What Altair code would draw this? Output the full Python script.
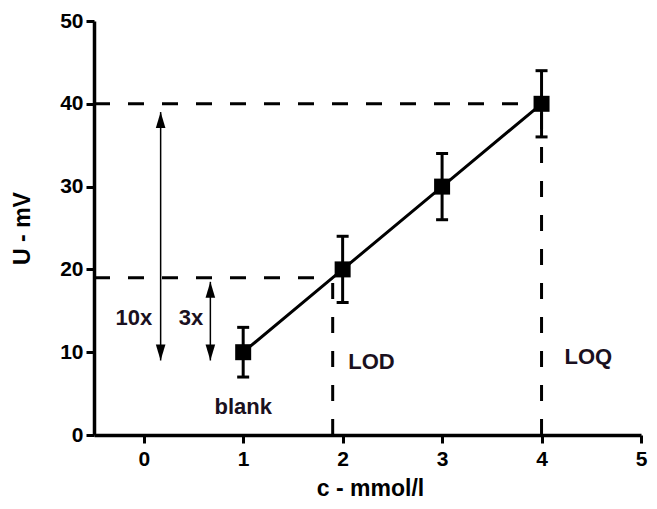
import altair as alt
import pandas as pd

# measured calibration points
conc = [1, 2, 3, 4]
signal = [10, 20, 30, 40]
err = [3, 4, 4, 4]

x_ticks = [0, 1, 2, 3, 4, 5]
y_ticks = [0, 10, 20, 30, 40, 50]

# dashed guide lines (x, x2, y, y2)
guide_x = [-0.5, 1.9, -0.5, 4]
guide_x2 = [1.9, 1.9, 4, 4]
guide_y = [19, 0, 40, 0]
guide_y2 = [19, 19, 40, 40]

# double arrows
arrow_x = [0.17, 0.67]
arrow_lo = [9, 9]
arrow_hi = [39, 18.5]

# annotations
ann_text = ["10x", "3x", "blank", "LOD", "LOQ"]
ann_x = [-0.1, 0.475, 1.0, 2.29, 4.47]
ann_y = [13.3, 13.3, 2.5, 8.0, 8.6]

FONT = "Liberation Sans"

pts = pd.DataFrame({"c": conc, "u": signal, "lo": [s - e for s, e in zip(signal, err)],
                    "hi": [s + e for s, e in zip(signal, err)]})
guides = pd.DataFrame({"x": guide_x, "x2": guide_x2, "y": guide_y, "y2": guide_y2})
arrows = pd.DataFrame({"x": arrow_x, "lo": arrow_lo, "hi": arrow_hi})
ann = pd.DataFrame({"t": ann_text, "x": ann_x, "y": ann_y})

xs = alt.Scale(domain=[-0.5, 5], nice=False, zero=False)
ys = alt.Scale(domain=[0, 50], nice=False)

x_axis = alt.Axis(values=x_ticks, title="c - mmol/l", grid=False, format="d",
                  domainWidth=3.5, domainColor="black", tickColor="black", tickWidth=3, tickSize=8,
                  labelFont=FONT, labelFontWeight="bold", labelFontSize=21, labelColor="black",
                  labelPadding=5, labelFlush=False,
                  titleFont=FONT, titleFontWeight="bold", titleFontSize=23, titleColor="black",
                  titleX=276, titleY=60, titleBaseline="alphabetic", titleAlign="center")
y_axis = alt.Axis(values=y_ticks, title="U - mV", grid=False, format="d",
                  domainWidth=3.5, domainColor="black", tickColor="black", tickWidth=3, tickSize=8,
                  labelFont=FONT, labelFontWeight="bold", labelFontSize=21, labelColor="black",
                  labelPadding=3, labelFlush=False,
                  titleFont=FONT, titleFontWeight="bold", titleFontSize=23, titleColor="black",
                  titleX=-72, titleY=207, titleAngle=270, titleBaseline="middle", titleAlign="center")


def X(field):
    return alt.X(field, scale=xs, axis=x_axis, title="c - mmol/l")


def Y(field):
    return alt.Y(field, scale=ys, axis=y_axis, title="U - mV")


line = alt.Chart(pts).mark_line(strokeWidth=3, color="black").encode(
    x=X("c:Q"), y=Y("u:Q"))

guide_layer = alt.Chart(guides).mark_rule(strokeDash=[16, 18], strokeWidth=3, color="black").encode(
    x=X("x:Q"), x2="x2:Q", y=Y("y:Q"), y2="y2:Q")

shaft = alt.Chart(arrows).mark_rule(strokeWidth=1.5, color="black").encode(
    x=X("x:Q"), y=Y("lo:Q"), y2="hi:Q")

head_up = alt.Chart(arrows).mark_point(shape="M0,0L0.6,2L-0.6,2Z", filled=True, size=256,
                                       color="black", opacity=1).encode(
    x=X("x:Q"), y=Y("hi:Q"))
head_down = alt.Chart(arrows).mark_point(shape="M0,0L0.6,-2L-0.6,-2Z", filled=True, size=256,
                                         color="black", opacity=1).encode(
    x=X("x:Q"), y=Y("lo:Q"))

ebar = alt.Chart(pts).mark_rule(strokeWidth=3, color="black").encode(
    x=X("c:Q"), y=Y("lo:Q"), y2="hi:Q")
cap_lo = alt.Chart(pts).mark_point(shape="M-1,0L1,0", filled=False, size=144, strokeWidth=3,
                                   color="black", opacity=1).encode(
    x=X("c:Q"), y=Y("lo:Q"))
cap_hi = alt.Chart(pts).mark_point(shape="M-1,0L1,0", filled=False, size=144, strokeWidth=3,
                                   color="black", opacity=1).encode(
    x=X("c:Q"), y=Y("hi:Q"))

markers = alt.Chart(pts).mark_point(shape="square", filled=True, size=256, color="black",
                                    opacity=1).encode(
    x=X("c:Q"), y=Y("u:Q"))

texts = alt.Chart(ann).mark_text(font=FONT, fontWeight="bold", fontSize=22, color="#1a1020",
                                 baseline="alphabetic", align="center").encode(
    x=X("x:Q"), y=Y("y:Q"), text="t:N")

chart = alt.layer(guide_layer, shaft, head_up, head_down, line, ebar, cap_lo, cap_hi, markers, texts).properties(
    width=547, height=414,
    background="white",
    autosize=alt.AutoSizeParams(type="none"),
    padding={"left": 86, "top": 13, "right": 8, "bottom": 66},
).configure_view(stroke=None)

chart.save("out.html", embed_options={"renderer": "svg", "actions": False})
